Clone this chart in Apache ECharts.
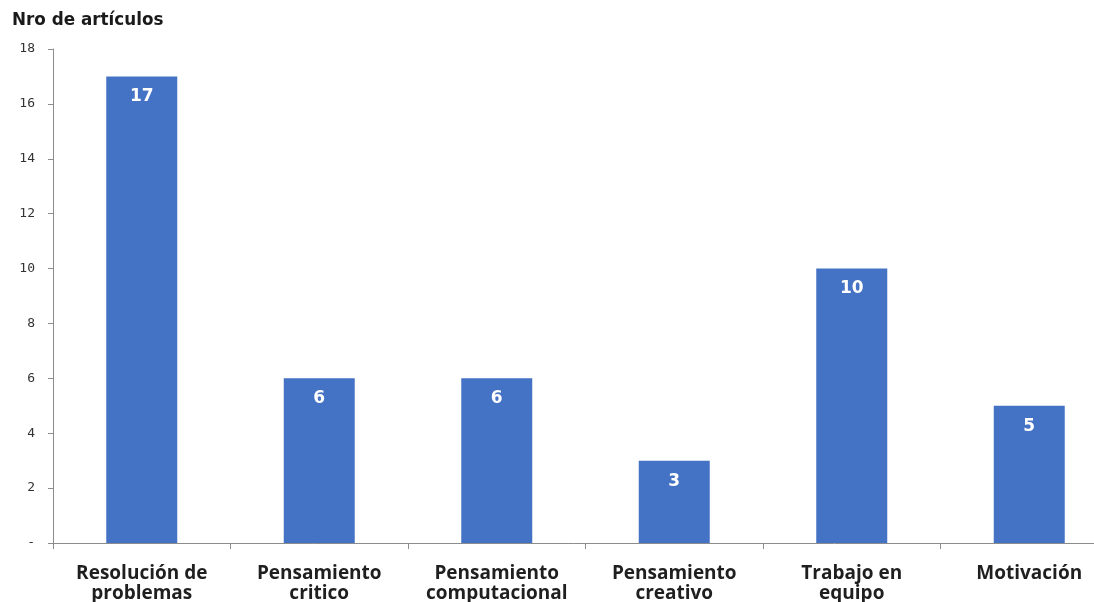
<!DOCTYPE html>
<html>
<head>
<meta charset="utf-8">
<script src="https://cdn.jsdelivr.net/npm/echarts@6/dist/echarts.min.js"></script>
<style>
  html, body { margin: 0; padding: 0; background: #fff; overflow: hidden; }
  #chart { width: 1094px; height: 602px; }
</style>
</head>
<body>
<div id="chart"></div>
<script>
// Number of articles per skill
const categories = [
  'Resolución de\nproblemas',
  'Pensamiento\ncritico',
  'Pensamiento\ncomputacional',
  'Pensamiento\ncreativo',
  'Trabajo en\nequipo',
  'Motivación'
];
const articleCounts = [17, 6, 6, 3, 10, 5];
const yTicks = { min: 0, max: 18, interval: 2 };

const chart = echarts.init(document.getElementById('chart'));
chart.setOption({
  backgroundColor: '#ffffff',
  animation: false,
  title: {
    text: 'Nro de artículos',
    left: 7,
    top: 7,
    textStyle: {
      fontFamily: 'DejaVu Sans, Verdana, sans-serif',
      fontSize: 16.8,
      fontWeight: 'bold',
      color: '#1a1a1a'
    }
  },
  // the last category runs past the right edge of the canvas
  grid: { left: 53, right: -24, top: 49, bottom: 59, outerBoundsMode: 'none' },
  xAxis: {
    type: 'category',
    data: categories,
    axisLine: { lineStyle: { color: '#8c8c8c', width: 1 } },
    axisTick: { show: true, length: 6, lineStyle: { color: '#8c8c8c' } },
    axisLabel: {
      interval: 0,
      margin: 21,
      lineHeight: 20,
      fontFamily: 'Open Sans, Liberation Sans, sans-serif',
      fontSize: 19,
      fontWeight: 'bold',
      color: '#1f1f1f'
    }
  },
  yAxis: {
    type: 'value',
    min: yTicks.min,
    max: yTicks.max,
    interval: yTicks.interval,
    splitLine: { show: false },
    axisLine: { show: true, lineStyle: { color: '#8c8c8c', width: 1 } },
    axisTick: { show: true, length: 5, lineStyle: { color: '#8c8c8c' } },
    axisLabel: {
      margin: 18,
      fontFamily: 'DejaVu Sans Mono, Liberation Mono, monospace',
      fontSize: 13,
      color: '#333333',
      formatter: v => (v === 0 ? '-' : String(v))
    }
  },
  series: [{
    type: 'bar',
    data: articleCounts,
    barWidth: '40%',
    itemStyle: { color: '#4472C4' },
    label: {
      show: true,
      position: 'insideTop',
      distance: 12,
      fontFamily: 'DejaVu Sans, Verdana, sans-serif',
      fontSize: 17,
      fontWeight: 'bold',
      color: '#ffffff'
    }
  }]
});
</script>
</body>
</html>
